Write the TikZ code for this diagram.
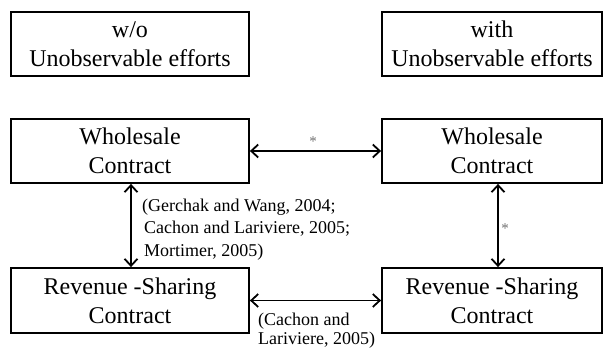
\documentclass[tikz,border=0pt]{standalone}
\usepackage{fontspec}
\setmainfont{Liberation Serif}
\usetikzlibrary{arrows.meta}
\begin{document}
\begin{tikzpicture}[x=1pt,y=-1pt,
  box/.style={draw, line width=1.8pt, align=center, inner sep=0pt,
    font=\fontsize{24}{29}\selectfont},
  lbox/.style={box, minimum width=238pt},
  rbox/.style={box, minimum width=220pt},
  arr/.style={line width=1.8pt, {Straight Barb[length=7pt,width=13pt]}-{Straight Barb[length=7pt,width=13pt]}},
  cite/.style={inner sep=0pt, align=left, anchor=base west},
  starlbl/.style={inner sep=0pt, text=black!55, font=\fontsize{15}{15}\selectfont}]
\useasboundingbox (0,0) rectangle (603,348);
\fill[white] (0,0) rectangle (603,348);
% top labels
\node[lbox, minimum height=64pt] (tl) at (130,44) {w/o\\Unobservable efforts};
\node[rbox, minimum height=64pt] (tr) at (492,44) {with\\Unobservable efforts};
% wholesale
\node[lbox, minimum height=64pt] (wl) at (130,151) {Wholesale\\Contract};
\node[rbox, minimum height=64pt] (wr) at (492,151) {Wholesale\\Contract};
% revenue sharing
\node[lbox, minimum height=65pt] (rl) at (130,300.5) {Revenue -Sharing\\Contract};
\node[rbox, minimum height=65pt] (rr) at (492,300.5) {Revenue -Sharing\\Contract};
% connectors
\draw[arr] (wl.east) -- (wr.west);
\draw[arr] (rl.east) -- (rr.west);
\draw[arr] ([xshift=1pt]wl.south) -- ([xshift=1pt]rl.north);
\draw[arr] ([xshift=6pt]wr.south) -- ([xshift=6pt]rr.north);
% labels
\node[starlbl] (s1) at (313,142) {*};
\node[starlbl] (s2) at (505,229) {*};
\node[cite, font=\fontsize{18}{22.5}\selectfont] (c1) at (142,256)
  {(Gerchak and Wang, 2004;\\\hspace{2pt}Cachon and Lariviere, 2005;\\\hspace{2pt}Mortimer, 2005)};
\node[cite, font=\fontsize{18}{19}\selectfont] (c2) at (258,344)
  {(Cachon and\\Lariviere, 2005)};
\end{tikzpicture}
\end{document}
